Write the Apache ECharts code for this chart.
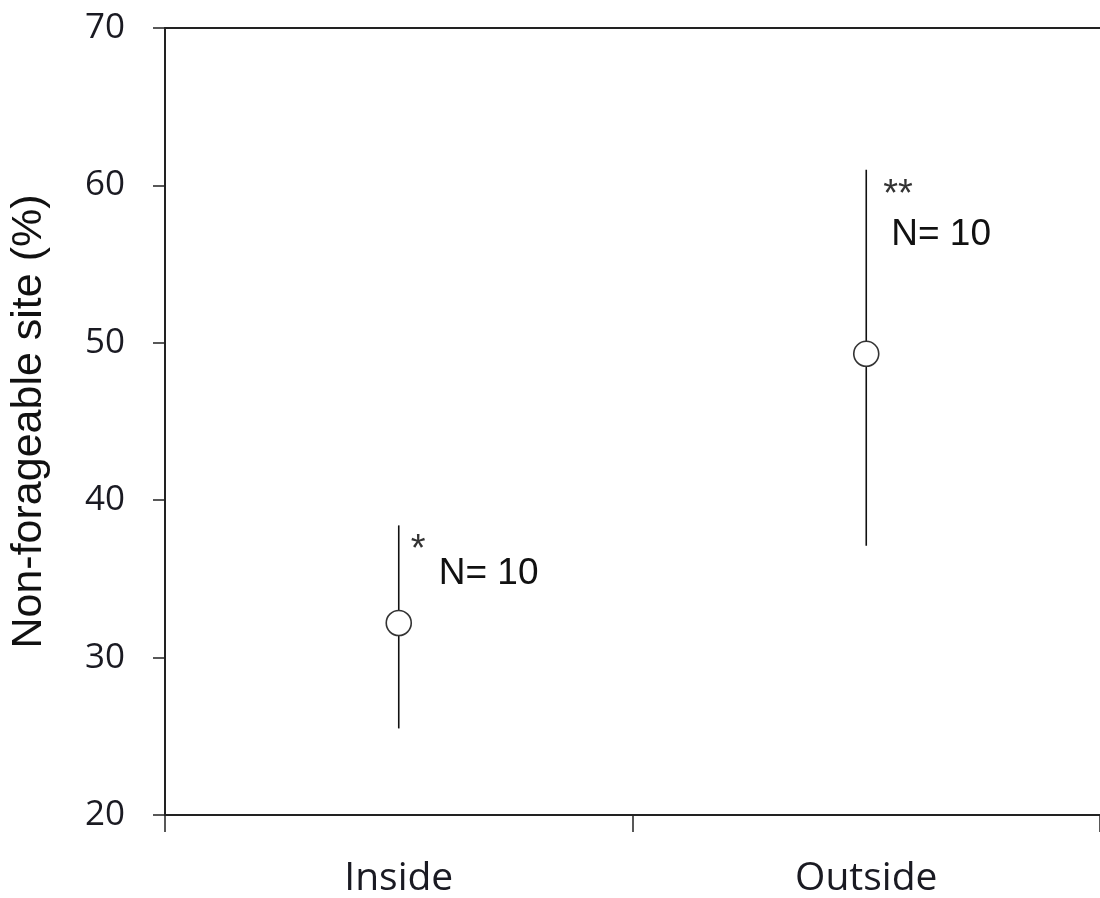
<!DOCTYPE html>
<html>
<head>
<meta charset="utf-8">
<script src="https://cdn.jsdelivr.net/npm/echarts@6/dist/echarts.min.js"></script>
<style>
  html, body { margin: 0; padding: 0; background: #fff; }
  #chart { width: 1100px; height: 898px; }
</style>
</head>
<body>
<div id="chart"></div>
<script>
// ---- Data ----
const categories = ['Inside', 'Outside'];
const means = [32.2, 49.3];
const lower = [25.5, 37.1];
const upper = [38.4, 61.0];
const sigLabels = ['*', '**'];
const nLabels = ['N= 10', 'N= 10'];
const yTicks = [20, 30, 40, 50, 60, 70];
const yTitle = 'Non-forageable site (%)';

// ---- Annotation layout (pixel offsets from the top of each error bar) ----
const sigOffset = [[12, 25], [17, 26]];
const nOffset = [[40, 48], [25, 65]];

const chart = echarts.init(document.getElementById('chart'), null, { renderer: 'canvas' });

const lineColor = '#222';
const numFont = '"Open Sans", "Noto Sans", sans-serif';
const arialFont = '"Liberation Sans", Arial, sans-serif';

const option = {
  backgroundColor: '#fff',
  animation: false,
  grid: { left: 164, right: -5, top: 28, bottom: 83, containLabel: false },
  xAxis: [
    {
      type: 'category',
      data: categories,
      position: 'bottom',
      axisLine: { show: true, lineStyle: { color: lineColor, width: 2 } },
      axisTick: { show: true, inside: false, length: 17, lineStyle: { color: lineColor, width: 1.5 } },
      axisLabel: { fontSize: 39, fontFamily: numFont, color: '#1a1a22', margin: 44 },
      splitLine: { show: false }
    },
    {
      type: 'category',
      data: categories,
      position: 'top',
      axisLine: { show: true, lineStyle: { color: lineColor, width: 2 } },
      axisTick: { show: false },
      axisLabel: { show: false },
      splitLine: { show: false }
    }
  ],
  yAxis: {
    type: 'value',
    min: yTicks[0],
    max: yTicks[yTicks.length - 1],
    interval: 10,
    name: yTitle,
    nameLocation: 'middle',
    nameGap: 114,
    nameTextStyle: { fontSize: 43, fontFamily: arialFont, color: '#111' },
    axisLine: { show: true, lineStyle: { color: lineColor, width: 2 } },
    axisTick: { show: true, inside: false, length: 12, lineStyle: { color: lineColor, width: 1.5 } },
    axisLabel: { fontSize: 35, fontFamily: numFont, color: '#1a1a22', margin: 40 },
    splitLine: { show: false }
  },
  series: [
    {
      type: 'custom',
      xAxisIndex: 0,
      data: categories.map((c, i) => [i, lower[i], upper[i]]),
      encode: { x: 0, y: [1, 2] },
      z: 2,
      renderItem: function (params, api) {
        const i = params.dataIndex;
        const lo = api.coord([api.value(0), api.value(1)]);
        const hi = api.coord([api.value(0), api.value(2)]);
        return {
          type: 'group',
          children: [
            {
              type: 'line',
              shape: { x1: hi[0], y1: hi[1], x2: lo[0], y2: lo[1] },
              style: { stroke: '#111', lineWidth: 1.6 }
            },
            {
              type: 'text',
              x: hi[0] + sigOffset[i][0],
              y: hi[1] + sigOffset[i][1],
              style: {
                text: sigLabels[i], fontSize: 38, fontFamily: arialFont,
                fill: '#333', align: 'left', verticalAlign: 'middle'
              }
            },
            {
              type: 'text',
              x: hi[0] + nOffset[i][0],
              y: hi[1] + nOffset[i][1],
              style: {
                text: nLabels[i], fontSize: 37, fontFamily: arialFont,
                fill: '#111', align: 'left', verticalAlign: 'middle'
              }
            }
          ]
        };
      }
    },
    {
      type: 'scatter',
      xAxisIndex: 0,
      data: categories.map((c, i) => [i, means[i]]),
      symbol: 'circle',
      symbolSize: 25,
      z: 3,
      itemStyle: { color: '#fff', borderColor: '#333', borderWidth: 1.6, opacity: 1 }
    }
  ]
};

chart.setOption(option);
</script>
</body>
</html>
